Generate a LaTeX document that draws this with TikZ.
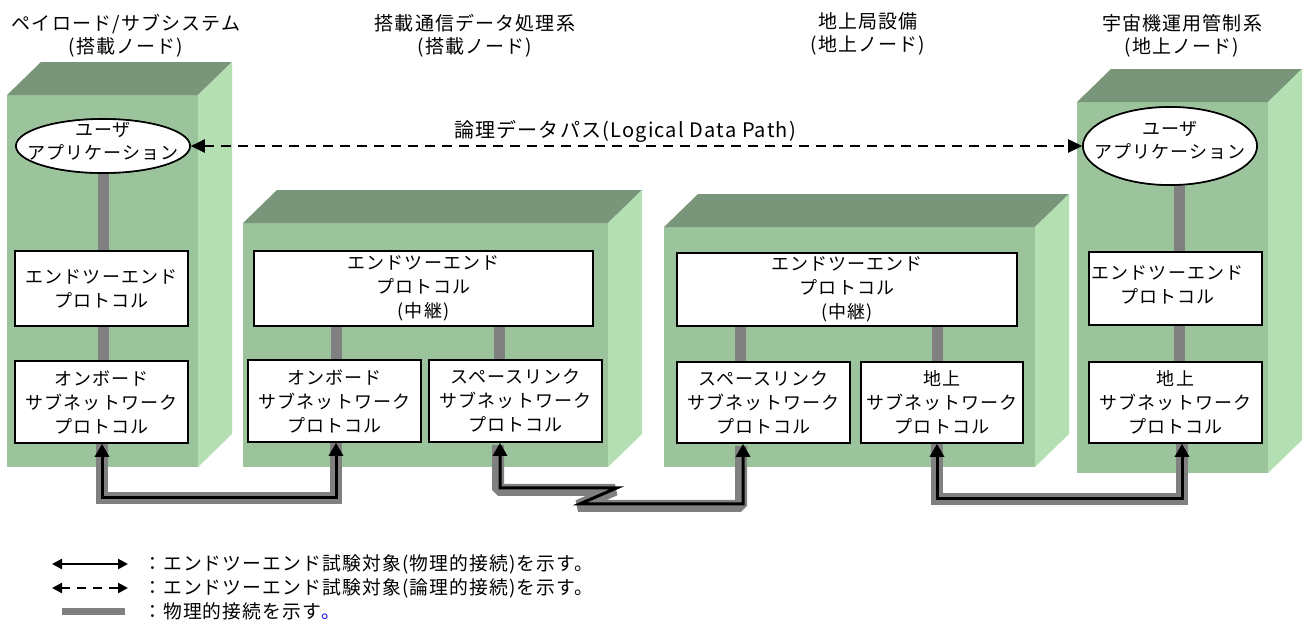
\documentclass[tikz,border=0pt]{standalone}
\usepackage{fontspec}
\setmainfont{Noto Sans CJK JP}
\newfontfamily\jpsp[LetterSpace=6]{Noto Sans CJK JP}
\usetikzlibrary{arrows.meta,shapes.geometric}
\definecolor{gfront}{RGB}{156,196,156}
\definecolor{gtop}{RGB}{122,150,122}
\definecolor{gside}{RGB}{179,223,179}
\definecolor{physgrey}{RGB}{128,128,128}
\newcommand\boxfnt{\jpsp\fontsize{18}{24}\selectfont}
\newcommand\ellfnt{\jpsp\fontsize{18}{23}\selectfont}
\newcommand\titfnt{\jpsp\fontsize{19}{23}\selectfont}
\newcommand\legfnt{\jpsp\fontsize{18.8}{24}\selectfont}
\newcommand\pathfnt{\jpsp\fontsize{20}{24}\selectfont}
\newcommand\greenblock[4]{%
  \fill[gfront] (#1,#2) rectangle (#3,#4);
  \fill[gtop] (#1,#2) -- ++(34,-33) -- (#3+34,#2-33) -- (#3,#2) -- cycle;
  \fill[gside] (#3,#2) -- ++(34,-33) -- (#3+34,#4-33) -- (#3,#4) -- cycle;
}
\begin{document}
\begin{tikzpicture}[x=1pt,y=-1pt,
  pbox/.style={draw, line width=1.6pt, fill=white, inner sep=0pt, align=center, font=\boxfnt},
  ell/.style={ellipse, draw, line width=1.6pt, fill=white, inner sep=0pt},
  lbl/.style={align=center, font=\boxfnt, inner sep=0pt},
  ttl/.style={align=center, font=\titfnt, inner sep=0pt},
  leg/.style={anchor=west, font=\legfnt, inner sep=0pt},
  bar/.style={physgrey, line width=11pt},
  physc/.style={physgrey, line width=12pt, line join=miter},
  conn/.style={black, line width=3pt, line join=miter, {Triangle[length=13pt,width=14pt]}-{Triangle[length=13pt,width=14pt]}},
  logic/.style={black, line width=2.5pt, dash pattern=on 10pt off 7pt, {Triangle[length=14pt,width=13pt]}-{Triangle[length=14pt,width=13pt]}},
  legc/.style={black, line width=2.4pt, {Triangle[length=10pt,width=10pt]}-{Triangle[length=10pt,width=10pt]}},
]
\useasboundingbox (0,0) rectangle (1311,619);
\fill[white] (0,0) rectangle (1311,619);

% green blocks
\greenblock{7}{95}{198}{467}
\greenblock{243}{223}{608}{467}
\greenblock{664}{227}{1035}{467}
\greenblock{1077}{102}{1268}{473}

% titles
\node[ttl] (t1) at (126,36) {ペイロード/サブシステム\\(搭載ノード)};
\node[ttl] (t2) at (475,36) {搭載通信データ処理系\\(搭載ノード)};
\node[ttl] (t3) at (868,34) {地上局設備\\(地上ノード)};
\node[ttl] (t4) at (1182,36) {宇宙機運用管制系\\(地上ノード)};

% ellipses (shapes)
\node[ell, minimum width=174pt, minimum height=54pt] (ua1) at (103,146) {};
\node[ell, minimum width=174pt, minimum height=78pt] (ua4) at (1170,146) {};

% boxes (empty first for sizes)
\node[pbox, minimum width=173pt, minimum height=75pt] (e2e1) at (101.5,288.5) {};
\node[pbox, minimum width=173pt, minimum height=82pt] (ob1) at (101.5,402) {};
\node[pbox, minimum width=339pt, minimum height=75pt] (e2e2) at (423.5,288.5) {};
\node[pbox, minimum width=173pt, minimum height=82pt] (ob2) at (334.5,401) {};
\node[pbox, minimum width=173pt, minimum height=82pt] (sl2) at (515.5,401) {};
\node[pbox, minimum width=340pt, minimum height=73pt] (e2e3) at (847,289.5) {};
\node[pbox, minimum width=173pt, minimum height=81pt] (sl3) at (763.5,402.5) {};
\node[pbox, minimum width=162pt, minimum height=81pt] (gr3) at (942,402.5) {};
\node[pbox, minimum width=173pt, minimum height=73pt] (e2e4) at (1175.5,288.5) {};
\node[pbox, minimum width=173pt, minimum height=81pt] (gr4) at (1175.5,402.5) {};

% grey physical bars (behind boxes)
\draw[bar] (ua1.south) -- (ua1.south |- e2e1.north);
\draw[bar] (ua1.south |- e2e1.south) -- (ua1.south |- ob1.north);
\draw[bar] ([xshift=1.5pt]ob2.north) -- ([xshift=1.5pt]ob2.north |- e2e2.south);
\draw[bar] ([xshift=-16.5pt]sl2.north) -- ([xshift=-16.5pt]sl2.north |- e2e2.south);
\draw[bar] ([xshift=-23.5pt]sl3.north) -- ([xshift=-23.5pt]sl3.north |- e2e3.south);
\draw[bar] ([xshift=-5pt]gr3.north) -- ([xshift=-5pt]gr3.north |- e2e3.south);
\draw[bar] ([xshift=3.5pt]gr4.north |- ua4.south) -- ([xshift=3.5pt]gr4.north |- e2e4.north);
\draw[bar] ([xshift=3.5pt]gr4.north |- e2e4.south) -- ([xshift=3.5pt]gr4.north);

% redraw boxes over bars, with texts
\node[pbox, minimum width=173pt, minimum height=75pt] at (e2e1.center) {エンドツーエンド\\プロトコル};
\node[pbox, minimum width=173pt, minimum height=82pt] at (ob1.center) {オンボード\\サブネットワーク\\プロトコル};
\node[pbox, minimum width=339pt, minimum height=75pt] at (e2e2.center) {エンドツーエンド\\プロトコル\\(中継)};
\node[pbox, minimum width=173pt, minimum height=82pt] at (ob2.center) {オンボード\\サブネットワーク\\プロトコル};
\node[pbox, minimum width=173pt, minimum height=82pt] at (sl2.center) {スペースリンク\\サブネットワーク\\プロトコル};
\node[pbox, minimum width=340pt, minimum height=73pt] at (e2e3.center) {エンドツーエンド\\プロトコル\\(中継)};
\node[pbox, minimum width=173pt, minimum height=81pt] at (sl3.center) {スペースリンク\\サブネットワーク\\プロトコル};
\node[pbox, minimum width=162pt, minimum height=81pt] at (gr3.center) {地上\\サブネットワーク\\プロトコル};
\node[pbox, minimum width=173pt, minimum height=73pt] at (e2e4.center) {};
\node[lbl] (e2e4t) at ([shift={(-8,-4)}]e2e4.center) {エンドツーエンド\\プロトコル};
\node[pbox, minimum width=173pt, minimum height=81pt] at (gr4.center) {地上\\サブネットワーク\\プロトコル};

% ellipses over bars, with texts
\node[ell, minimum width=174pt, minimum height=54pt] at (ua1.center) {};
\node[lbl, font=\ellfnt] (ua1t) at ([yshift=5pt]ua1.center) {ユーザ\\アプリケーション};
\node[ell, minimum width=174pt, minimum height=78pt] at (ua4.center) {};
\node[lbl, font=\ellfnt] (ua4t) at ([yshift=6pt]ua4.center) {ユーザ\\アプリケーション};

% logical data path
\draw[logic] (ua1.east) -- (ua4.west);
\node[lbl, font=\pathfnt] (lp) at (625,131) {論理データパス(Logical Data Path)};

% physical connectors
\draw[physc] ([xshift=.5pt]ob1.south) -- ++(0,54) -| ([xshift=1.5pt]ob2.south);
\draw[conn] ([xshift=.5pt]ob1.south) -- ++(0,54) -| ([xshift=1.5pt]ob2.south);

\draw[physc, line join=bevel, transform canvas={shift={(-2pt,-2pt)}}] ([xshift=-15.5pt]sl2.south) -- ++(0,45) -- ++(117,0) -- ++(-37,16) -| ([xshift=-20.5pt]sl3.south);
\draw[conn] ([xshift=-15.5pt]sl2.south) -- ++(0,45) -- ++(117,0) -- ++(-37,16) -| ([xshift=-20.5pt]sl3.south);

\draw[physc] ([xshift=-5pt]gr3.south) -- ++(0,55) -| ([xshift=6.5pt]gr4.south);
\draw[conn] ([xshift=-5pt]gr3.south) -- ++(0,55) -| ([xshift=6.5pt]gr4.south);

% legend
\coordinate (l1a) at (52,564); \coordinate (l1b) at (128,564);
\coordinate (l2a) at (52,588); \coordinate (l2b) at (128,588);
\coordinate (l3a) at (62,611); \coordinate (l3b) at (125,611);
\draw[legc] (l1a) -- (l1b);
\draw[legc, dash pattern=on 9pt off 7pt] (l2a) -- (l2b);
\draw[physgrey, line width=7pt] (l3a) -- (l3b);
\node[leg] (lg1) at (143,564) {：エンドツーエンド試験対象(物理的接続)を示す。};
\node[leg] (lg2) at (143,588) {：エンドツーエンド試験対象(論理的接続)を示す。};
\node[leg] (lg3) at (143,611) {：物理的接続を示す\textcolor{blue}{。}};
\end{tikzpicture}
\end{document}
